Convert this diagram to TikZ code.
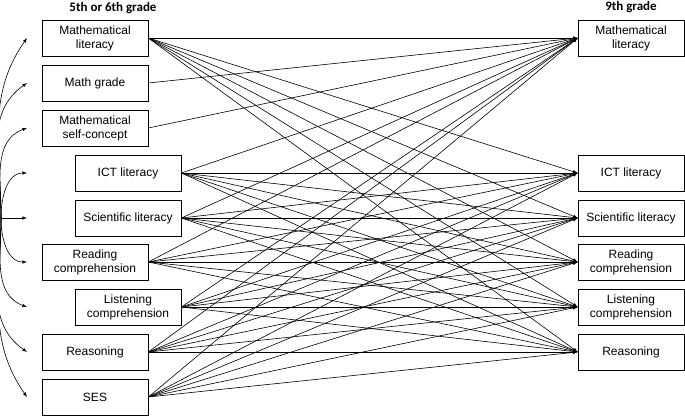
\documentclass[tikz,border=0pt]{standalone}
\usepackage{fontspec}
\setmainfont{Liberation Sans}
\newfontfamily\headfont{Carlito}
\usetikzlibrary{arrows}

\begin{document}
\begin{tikzpicture}[x=1pt,y=1pt,
  var/.style={draw, line width=0.7pt, minimum width=106pt, minimum height=36pt,
    inner sep=1pt, align=center, font=\fontsize{12}{14}\selectfont},
  head/.style={font=\headfont\bfseries\fontsize{13}{15}\selectfont},
  eff/.style={line width=0.6pt, -latex},
  cov/.style={line width=0.6pt, -latex}]
\useasboundingbox (0,0) rectangle (685,415);

\node[head] (hl) at (113,407) {5th or 6th grade};
\node[head] (hr) at (631,408) {9th grade};

\node[var] (ml) at (95,377) {Mathematical\\literacy};
\node[var] (mg) at (95,332) {Math grade};
\node[var] (msc) at (95,287) {Mathematical\\self-concept};
\node[var] (ict) at (128,242) {ICT literacy};
\node[var] (sci) at (128,197) {Scientific literacy};
\node[var] (rea) at (95,153) {Reading\\comprehension};
\node[var] (lis) at (128,108) {Listening\\comprehension};
\node[var] (rsn) at (95,63) {Reasoning};
\node[var] (ses) at (95,18) {SES};

\node[var] (ml9) at (631,377) {Mathematical\\literacy};
\node[var] (ict9) at (631,242) {ICT literacy};
\node[var] (sci9) at (631,197) {Scientific literacy};
\node[var] (rea9) at (631,153) {Reading\\comprehension};
\node[var] (lis9) at (631,108) {Listening\\comprehension};
\node[var] (rsn9) at (631,63) {Reasoning};

\foreach \a in {ml,mg,msc,ict,sci,rea,lis,rsn,ses}
  \draw[eff] (\a.east) -- (ml9.west);
\foreach \a in {ml,ict,sci,rea,lis,rsn,ses}
  \foreach \b in {ict9,sci9,rea9,lis9,rsn9}
    \draw[eff] (\a.east) -- (\b.west);

\coordinate (src) at (1,197);
\coordinate (tipx) at (27,0);
\draw[cov] (src) to[out=90,in=235] (ml -| tipx);
\draw[cov] (src) to[out=90,in=215] (mg -| tipx);
\draw[cov] (src) to[out=90,in=200] (msc -| tipx);
\draw[cov] (src) to[out=90,in=180] (ict -| tipx);
\draw[cov] (src) -- (sci -| tipx);
\draw[cov] (src) to[out=-90,in=180] (rea -| tipx);
\draw[cov] (src) to[out=-90,in=160] (lis -| tipx);
\draw[cov] (src) to[out=-90,in=145] (rsn -| tipx);
\draw[cov] (src) to[out=-90,in=125] (ses -| tipx);
\end{tikzpicture}
\end{document}
